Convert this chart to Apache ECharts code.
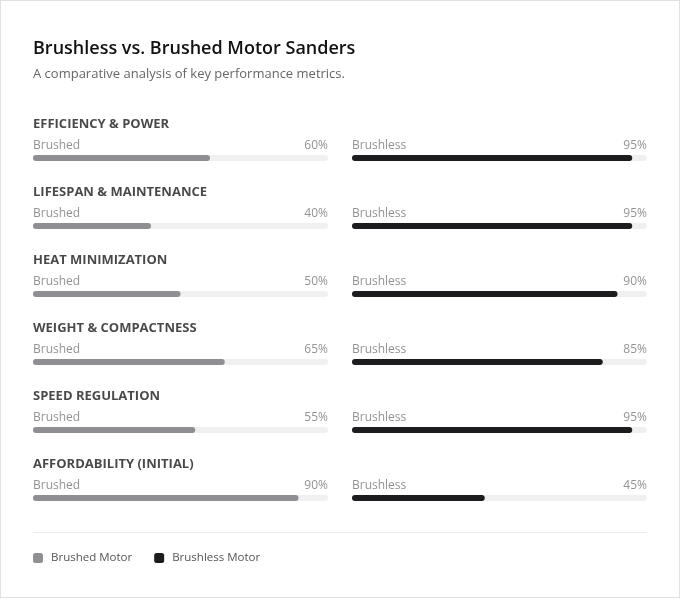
<!DOCTYPE html>
<html>
<head>
<meta charset="utf-8">
<script src="https://cdn.jsdelivr.net/npm/echarts@6/dist/echarts.min.js"></script>
<style>
  html, body { margin: 0; padding: 0; background: #fff; }
  #chart {
    width: 678px;
    height: 596px;
    border: 1px solid #e2e2e2;
    background: #fff;
  }
</style>
</head>
<body>
<div id="chart"></div>
<script>
// metrics, top to bottom
const metrics = [
  'EFFICIENCY & POWER',
  'LIFESPAN & MAINTENANCE',
  'HEAT MINIMIZATION',
  'WEIGHT & COMPACTNESS',
  'SPEED REGULATION',
  'AFFORDABILITY (INITIAL)'
];
const brushed = [60, 40, 50, 65, 55, 90];
const brushless = [95, 95, 90, 85, 95, 45];

const FONT = '"Open Sans", "Noto Sans", sans-serif';
const GRAY = '#8e8e93';
const DARK = '#1c1c1e';

const chart = echarts.init(document.getElementById('chart'));

function labelSeries(grid, x, pos, formatter, offsetY, style) {
  return {
    type: 'scatter',
    xAxisIndex: grid,
    yAxisIndex: grid,
    symbolSize: 0,
    silent: true,
    data: metrics.map((m, i) => [x, m, i]),
    label: Object.assign({
      show: true,
      position: pos,
      distance: 0,
      offset: [0, offsetY],
      formatter: formatter,
      fontFamily: FONT
    }, style)
  };
}

const smallText = { fontSize: 12, color: '#777' };

chart.setOption({
  animation: false,
  textStyle: { fontFamily: FONT },
  title: {
    text: 'Brushless vs. Brushed Motor Sanders',
    subtext: 'A comparative analysis of key performance metrics.',
    left: 27,
    top: 34,
    itemGap: 10,
    textStyle: { fontSize: 18, fontWeight: 600, color: '#111', fontFamily: FONT },
    subtextStyle: { fontSize: 13, color: '#666', fontFamily: FONT }
  },
  legend: {
    left: 27,
    top: 546,
    icon: 'roundRect',
    itemWidth: 10,
    itemHeight: 10,
    itemGap: 22,
    textStyle: { fontSize: 11.5, color: '#555', fontFamily: FONT, padding: [0, 0, 0, 3] },
    data: ['Brushed Motor', 'Brushless Motor']
  },
  graphic: [{
    type: 'line',
    shape: { x1: 32, y1: 531.5, x2: 646, y2: 531.5 },
    style: { stroke: '#ececec', lineWidth: 1 }
  }],
  grid: [
    { left: 32, width: 295, top: 123, height: 408 },
    { left: 351, width: 295, top: 123, height: 408 }
  ],
  xAxis: [0, 1].map(i => ({
    gridIndex: i, type: 'value', min: 0, max: 100, show: false
  })),
  yAxis: [0, 1].map(i => ({
    gridIndex: i, type: 'category', data: metrics, inverse: true, show: false
  })),
  series: [
    {
      name: 'Brushed Motor',
      type: 'bar',
      xAxisIndex: 0, yAxisIndex: 0,
      data: brushed,
      barWidth: 6,
      showBackground: true,
      backgroundStyle: { color: '#f0f0f0', borderRadius: 3 },
      itemStyle: { color: GRAY, borderRadius: 3 }
    },
    {
      name: 'Brushless Motor',
      type: 'bar',
      xAxisIndex: 1, yAxisIndex: 1,
      data: brushless,
      barWidth: 6,
      showBackground: true,
      backgroundStyle: { color: '#f0f0f0', borderRadius: 3 },
      itemStyle: { color: DARK, borderRadius: 3 }
    },
    // section headings
    labelSeries(0, 0, 'right', p => p.data[1], -34,
      { fontSize: 13, fontWeight: 'bold', color: '#1a1a1a' }),
    // side labels
    labelSeries(0, 0, 'right', () => 'Brushed', -12, smallText),
    labelSeries(1, 0, 'right', () => 'Brushless', -12, smallText),
    // percentages
    labelSeries(0, 100, 'left', p => brushed[p.data[2]] + '%', -12, smallText),
    labelSeries(1, 100, 'left', p => brushless[p.data[2]] + '%', -12, smallText)
  ]
});
</script>
</body>
</html>
